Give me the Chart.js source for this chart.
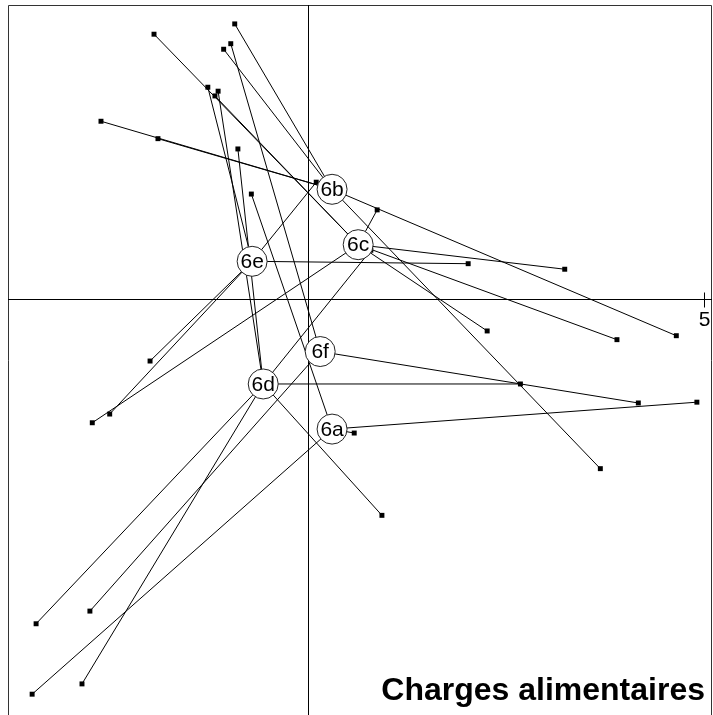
<!DOCTYPE html>
<html>
<head>
<meta charset="utf-8">
<script src="https://cdn.jsdelivr.net/npm/chart.js@4.4.1/dist/chart.umd.min.js"></script>
<style>
  html, body { margin: 0; padding: 0; background: #fff; }
</style>
</head>
<body>
<canvas id="chart" width="713" height="715"></canvas>
<script>
(function () {
  'use strict';

  // class labels and their centres
  const classes = ['6a', '6b', '6c', '6d', '6e', '6f'];
  const centerX = [0.30, 0.30, 0.63, -0.57, -0.71, 0.15];
  const centerY = [-1.64, 1.39, 0.69, -1.07, 0.48, -0.66];

  // individual rows: coordinates and the class each one belongs to
  const pointX = [
    -0.72, 4.91, 0.58, -3.49,
    -0.93, -1.07, -2.62, -1.90, 3.69, 4.65,
    -1.95, -1.18, 0.87, 3.24, 3.90, 2.26, -2.73,
    2.68, -3.44, 0.93, 0.79, -1.14, -0.89, -2.86,
    2.02, -2.00, -2.51, 0.10, -1.27,
    -0.98, 4.17, -2.76
  ];
  const pointY = [
    1.33, -1.30, -1.69, -4.99,
    3.48, 3.16, 2.25, 2.03, -2.14, -0.46,
    3.35, 2.57, 1.13, 0.38, -0.51, -0.40, -1.56,
    -1.07, -4.10, -2.73, 0.62, 2.63, 1.90, -4.86,
    0.45, -0.78, -1.45, 1.48, 2.68,
    3.23, -1.31, -3.94
  ];
  const pointClass = [
    '6a', '6a', '6a', '6a',
    '6b', '6b', '6b', '6b', '6b', '6b',
    '6c', '6c', '6c', '6c', '6c', '6c', '6c',
    '6d', '6d', '6d', '6d', '6d', '6d', '6d',
    '6e', '6e', '6e', '6e', '6e',
    '6f', '6f', '6f'
  ];

  const xTicks = [5];
  const subtitle = 'Charges alimentaires';

  // star segments: point -> centre, broken by gaps
  const starDatasets = classes.map((cls, k) => {
    const data = [];
    pointClass.forEach((c, i) => {
      if (c !== cls) return;
      data.push({ x: pointX[i], y: pointY[i] });
      data.push({ x: centerX[k], y: centerY[k] });
      data.push({ x: null, y: null });
    });
    return {
      label: 'star ' + cls,
      data,
      showLine: true,
      spanGaps: false,
      borderColor: '#000',
      borderWidth: 1,
      pointRadius: 0,
      order: 3
    };
  });

  const pointsDataset = {
    label: 'rows',
    data: pointX.map((x, i) => ({ x, y: pointY[i] })),
    pointStyle: 'rect',
    pointRadius: 3.5,
    backgroundColor: '#000',
    borderColor: '#000',
    borderWidth: 0,
    order: 2
  };

  const centersDataset = {
    label: 'centres',
    data: centerX.map((x, i) => ({ x, y: centerY[i] })),
    pointStyle: 'circle',
    pointRadius: 15,
    backgroundColor: '#fff',
    borderColor: '#222',
    borderWidth: 1,
    order: 1
  };

  // frame, axes through the origin and the single tick
  const framePlugin = {
    id: 'frame',
    beforeDatasetsDraw(ci) {
      const { ctx, chartArea: a, scales: { x, y } } = ci;
      ctx.save();
      ctx.strokeStyle = '#333';
      ctx.lineWidth = 1;
      ctx.beginPath();
      ctx.moveTo(a.left + 0.5, a.bottom + 2);
      ctx.lineTo(a.left + 0.5, a.top + 0.5);
      ctx.lineTo(a.right - 0.5, a.top + 0.5);
      ctx.lineTo(a.right - 0.5, a.bottom + 2);
      ctx.stroke();

      const x0 = Math.round(x.getPixelForValue(0)) + 0.5;
      const y0 = Math.round(y.getPixelForValue(0)) + 0.5;
      ctx.strokeStyle = '#000';
      ctx.beginPath();
      ctx.moveTo(a.left, y0);
      ctx.lineTo(a.right, y0);
      ctx.moveTo(x0, a.top);
      ctx.lineTo(x0, a.bottom);
      ctx.stroke();

      ctx.fillStyle = '#000';
      ctx.font = '21px "Liberation Sans", Arial, sans-serif';
      ctx.textAlign = 'center';
      ctx.textBaseline = 'top';
      xTicks.forEach(t => {
        const px = Math.round(x.getPixelForValue(t)) + 0.5;
        ctx.beginPath();
        ctx.moveTo(px, y0 - 7);
        ctx.lineTo(px, y0 + 8);
        ctx.stroke();
        ctx.fillText(String(t), px, y0 + 10);
      });
      ctx.restore();
    }
  };

  // class names inside the circles, plus the sub-title
  const labelPlugin = {
    id: 'labels',
    afterDatasetsDraw(ci) {
      const { ctx, chartArea: a } = ci;
      const meta = ci.getDatasetMeta(ci.data.datasets.length - 1);
      ctx.save();
      ctx.fillStyle = '#000';
      ctx.font = '21px "Liberation Sans", Arial, sans-serif';
      ctx.textAlign = 'center';
      ctx.textBaseline = 'middle';
      meta.data.forEach((el, i) => {
        ctx.fillText(classes[i], el.x, el.y + 1);
      });

      ctx.font = 'bold 32px "Liberation Sans", Arial, sans-serif';
      ctx.textAlign = 'right';
      ctx.textBaseline = 'alphabetic';
      const w = ctx.measureText(subtitle).width;
      ctx.fillStyle = '#fff';
      ctx.fillRect(a.right - 8 - w - 4, 670, w + 8, 38);
      ctx.fillStyle = '#000';
      ctx.fillText(subtitle, a.right - 7, 700);
      ctx.restore();
    }
  };

  new Chart(document.getElementById('chart').getContext('2d'), {
    type: 'scatter',
    data: { datasets: [...starDatasets, pointsDataset, centersDataset] },
    options: {
      responsive: false,
      animation: false,
      layout: { autoPadding: false, padding: { left: 8, top: 5, right: 1, bottom: 0 } },
      scales: {
        x: { type: 'linear', display: false, min: -3.795, max: 5.101 },
        y: { type: 'linear', display: false, min: -5.253, max: 3.719 }
      },
      plugins: { legend: { display: false }, tooltip: { enabled: false } }
    },
    plugins: [framePlugin, labelPlugin]
  });
})();
</script>
</body>
</html>
